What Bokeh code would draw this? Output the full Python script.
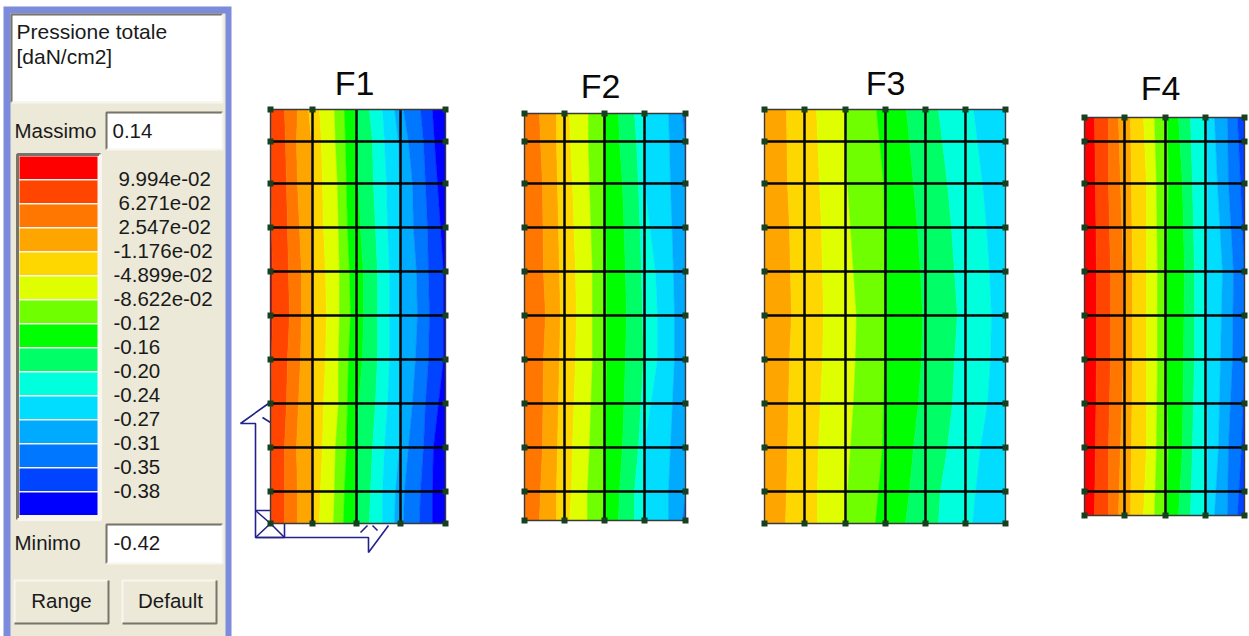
from bokeh.plotting import figure
from bokeh.models import Range1d
from bokeh.core.properties import value
from bokeh.embed import file_html
from bokeh.resources import INLINE

# ---------- legend data ----------
LEGEND_COLORS = ["#ff0000", "#ff4500", "#ff7700", "#ffa500", "#ffd700", "#dfff00", "#6fff00", "#00ff00",
                 "#00ff66", "#00ffdd", "#00ddff", "#00aaff", "#0077ff", "#0044ff", "#0000ff"]
LEGEND_LABELS = ["9.994e-02", "6.271e-02", "2.547e-02", "-1.176e-02", "-4.899e-02", "-8.622e-02", "-0.12",
                 "-0.16", "-0.20", "-0.24", "-0.27", "-0.31", "-0.35", "-0.38"]
TITLE_LINES = ["Pressione totale", "[daN/cm2]"]
MAX_VALUE = "0.14"
MIN_VALUE = "-0.42"

# ---------- panels: levels (y), vertical grid, first band, boundaries per level ----------
GRID_Y = [141, 183, 227, 271, 315, 359, 403, 447, 491]

F1_LEVELS = [109, 141, 183, 227, 271, 315, 359, 403, 447, 491, 523]
F1_GRID_X = [270, 312, 356, 400, 445]
F1_FIRST = 0
F1_BOUNDS = [
    [270, 284, 297, 308, 319, 334, 344, 357, 369, 382, 394, 403, 420, 432],
    [270, 285, 296, 311, 321, 335, 345, 357, 372, 384, 398, 408, 423, 434],
    [270, 286, 297, 312, 322, 337, 346, 358, 373, 386, 399, 412, 425, 437],
    [271, 287, 299, 312, 323, 338, 347, 360, 375, 387, 400, 413, 427, 440],
    [272, 288, 301, 313, 325, 339, 349, 363, 377, 389, 400, 416, 428, 443],
    [272, 289, 301, 313, 326, 339, 350, 363, 377, 389, 400, 417, 429, 443],
    [271, 287, 300, 312, 325, 338, 348, 362, 377, 389, 400, 415, 428, 443],
    [270, 286, 298, 312, 323, 338, 347, 358, 375, 387, 399, 412, 425, 438],
    [270, 284, 296, 312, 322, 335, 346, 357, 372, 384, 399, 408, 423, 433],
    [270, 284, 297, 312, 320, 334, 344, 357, 370, 382, 395, 404, 420, 432],
    [270, 284, 297, 311, 319, 333, 343, 357, 369, 382, 394, 403, 419, 432],
]

F2_LEVELS = [113, 141, 183, 271, 315, 359, 447, 491, 520]
F2_GRID_X = [524, 564, 604, 644, 685]
F2_FIRST = 2
F2_BOUNDS = [
    [539, 556, 569, 588, 605, 618, 634, 646, 668, 682],
    [540, 556, 570, 588, 605, 619, 636, 645, 669, 684],
    [542, 557, 572, 589, 605, 622, 638, 644, 670, 685],
    [543, 559, 575, 592, 606, 625, 641, 655, 673, 685],
    [545, 560, 576, 592, 606, 626, 642, 657, 674, 685],
    [543, 559, 575, 592, 606, 625, 643, 657, 674, 685],
    [542, 557, 572, 589, 605, 622, 638, 644, 670, 685],
    [540, 556, 571, 587, 604, 619, 634, 645, 668, 685],
    [539, 556, 569, 587, 602, 618, 634, 646, 668, 682],
]

F3_LEVELS = [109, 183, 227, 271, 315, 359, 403, 447, 491, 523]
F3_GRID_X = [764, 804, 845, 885, 925, 965, 1005]
F3_FIRST = 3
F3_BOUNDS = [
    [786, 816, 845, 876, 906, 938, 973],
    [787, 819, 847, 883, 913, 947, 982],
    [789, 821, 850, 884, 917, 951, 986],
    [790, 822, 853, 884, 920, 954, 989],
    [791, 823, 856, 884, 922, 957, 991],
    [789, 822, 855, 884, 921, 954, 990],
    [788, 820, 853, 883, 918, 952, 987],
    [787, 818, 850, 882, 913, 947, 980],
    [786, 817, 847, 878, 909, 940, 975],
    [785, 817, 846, 875, 905, 938, 972],
]

F4_LEVELS = [117, 183, 271, 359, 447, 515]
F4_GRID_X = [1084, 1124, 1165, 1205, 1244]
F4_FIRST = 0
F4_BOUNDS = [
    [1094, 1108, 1118, 1130, 1143, 1154, 1167, 1178, 1190, 1206, 1214, 1227, 1237],
    [1095, 1108, 1120, 1131, 1146, 1156, 1168, 1182, 1192, 1207, 1217, 1228, 1240],
    [1096, 1110, 1123, 1132, 1146, 1157, 1166, 1184, 1194, 1206, 1222, 1233, 1244],
    [1096, 1110, 1123, 1132, 1146, 1157, 1166, 1183, 1194, 1206, 1220, 1232, 1244],
    [1095, 1108, 1120, 1131, 1146, 1156, 1168, 1182, 1192, 1207, 1218, 1228, 1241],
    [1094, 1108, 1118, 1130, 1143, 1154, 1166, 1178, 1190, 1206, 1214, 1227, 1237],
]

PANELS = [
    ("F1", F1_LEVELS, F1_GRID_X, F1_FIRST, F1_BOUNDS, 354, 82),
    ("F2", F2_LEVELS, F2_GRID_X, F2_FIRST, F2_BOUNDS, 600, 85),
    ("F3", F3_LEVELS, F3_GRID_X, F3_FIRST, F3_BOUNDS, 885, 82),
    ("F4", F4_LEVELS, F4_GRID_X, F4_FIRST, F4_BOUNDS, 1160, 87),
]

# ---------- axis triad ----------
TRIAD_XS = [[270, 255, 255, 284, 284], [255, 270], [255, 270], [270, 284], [255, 368, 368, 388],
            [268, 240, 255, 255], [262, 270], [360, 367], [372, 377]]
TRIAD_YS = [[510, 510, 537, 537, 523], [537, 523], [510, 523], [523, 537], [537, 537, 552, 525],
            [403, 423, 423, 510], [417, 422], [532, 525], [525, 530]]

p = figure(width=1249, height=636, x_range=Range1d(0, 1249), y_range=Range1d(636, 0),
           output_backend="svg", toolbar_location=None, min_border=0,
           background_fill_color="white", border_fill_color="white", outline_line_color=None)
p.axis.visible = False
p.grid.visible = False

FONT = value("Liberation Sans")
FACE = "#ece9d8"
INK = "#1a1a1a"
SHADE = "#77756a"
PALE = "#f8f6ee"


def rect(l, t, r, b, c):
    p.quad(left=[l], right=[r], top=[t], bottom=[b], fill_color=c, line_color=None)


def bevel(l, t, r, b, tl, br, w=2):
    p.multi_line(xs=[[l, l, r], [l, r, r]], ys=[[b, t, t], [b, b, t]], line_color=[tl, br], line_width=w)


def label(x, y, s, size="20.5px", **kw):
    p.text(x=[x], y=[y], text=[s], text_font=FONT, text_font_size=size, text_color=INK,
           text_baseline="alphabetic", **kw)


# ---------- side panel ----------
rect(3, 6, 231, 636, "#7c8bdb")
rect(10, 13, 225, 636, FACE)
rect(12, 15, 222, 101, "white")
bevel(11, 14, 222, 102, SHADE, PALE)
label(16, 31, TITLE_LINES[0], size="21px")
label(16, 56, TITLE_LINES[1], size="21px")

label(14, 130, "Massimo")
rect(107, 113, 222, 149, "white")
bevel(106, 112, 222, 149, SHADE, PALE)
label(112, 130, MAX_VALUE)

rect(17, 154, 101, 519, PALE)
bevel(17, 154, 100, 519, SHADE, PALE, 3)
p.quad(left=[19] * 15, right=[97] * 15,
       top=[156 + 24 * i for i in range(15)], bottom=[178.5 + 24 * i for i in range(15)],
       fill_color=LEGEND_COLORS, line_color=None)
for i, s in enumerate(LEGEND_LABELS):
    label(118 if i < 3 else 113, 178 + 24 * i, s)

label(14, 542, "Minimo")
rect(107, 525, 222, 563, "white")
bevel(106, 524, 222, 563, SHADE, PALE)
label(113, 542, MIN_VALUE)

bevel(14, 580, 108, 623, PALE, SHADE)
bevel(122, 580, 216, 623, PALE, SHADE)
label(61, 600, "Range", text_align="center")
label(170, 600, "Default", text_align="center")

# ---------- triad (under the panels) ----------
p.multi_line(xs=TRIAD_XS, ys=TRIAD_YS, line_color="#22228a", line_width=1.6)

# ---------- contour panels ----------
for name, levels, gx, first, bounds, tx, ty in PANELS:
    left, right, top, bottom = gx[0], gx[-1], levels[0], levels[-1]
    n = len(bounds[0])
    for k in range(n + 1):
        lo = [left] * len(levels) if k == 0 else [row[k - 1] for row in bounds]
        hi = [right] * len(levels) if k == n else [row[k] for row in bounds]
        p.patch(x=lo + hi[::-1], y=levels + levels[::-1], fill_color=LEGEND_COLORS[first + k],
                line_color=LEGEND_COLORS[first + k], line_width=0.5)
    p.multi_line(xs=[[x, x] for x in gx[1:-1]], ys=[[top, bottom]] * (len(gx) - 2),
                 line_color="#050505", line_width=2.5)
    p.multi_line(xs=[[left, right]] * len(GRID_Y), ys=[[y, y] for y in GRID_Y],
                 line_color="#050505", line_width=2.5)
    p.multi_line(xs=[[left, right, right, left, left]], ys=[[top, top, bottom, bottom, top]],
                 line_color="#3a3a3a", line_width=1.4)
    top_marks = [gx[0], gx[1], gx[-1]] if name == "F1" else gx
    mx = top_marks + gx + [left] * len(GRID_Y) + [right] * len(GRID_Y)
    my = [top] * len(top_marks) + [bottom] * len(gx) + GRID_Y + GRID_Y
    p.scatter(x=mx, y=my, marker="square", size=6, fill_color="#16401f", line_color=None)
    p.text(x=[tx], y=[ty], text=[name], text_font=FONT, text_font_size="34px",
           text_align="center", text_color="#0a0a0a", text_baseline="alphabetic")

open("out.html", "w").write(file_html(p, INLINE))
